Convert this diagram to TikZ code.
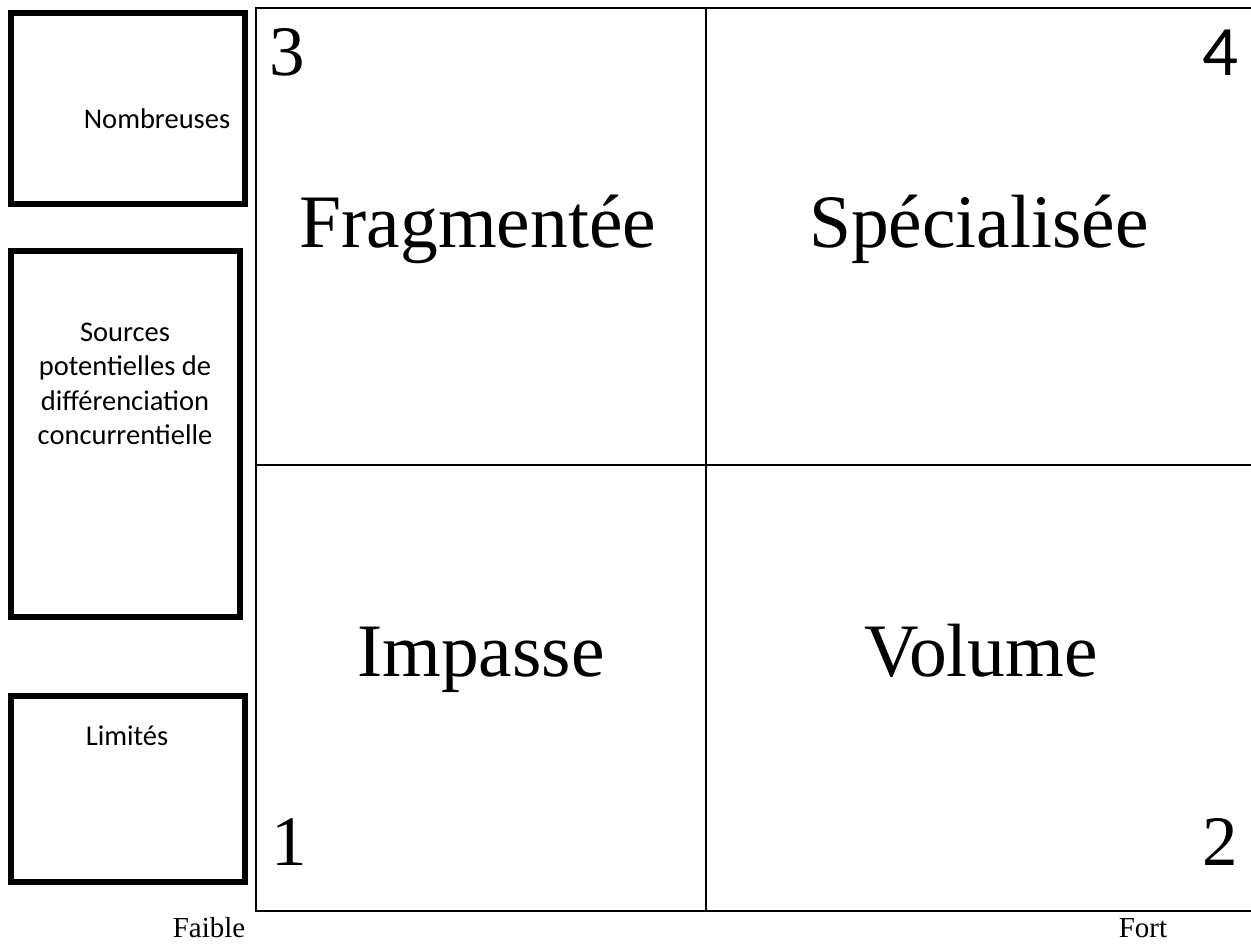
\documentclass[tikz,border=0pt]{standalone}
\usepackage{fontspec}
\setmainfont{Liberation Serif}
\newfontfamily\calibri{Carlito}
\begin{document}
\begin{tikzpicture}[x=1pt,y=-1pt,
  sidebox/.style={draw=black,line width=6pt,rectangle,inner sep=0pt},
  gridline/.style={draw=black,line width=2pt},
  small/.style={font=\calibri\fontsize{28.5}{34.5}\selectfont,align=center,anchor=base,inner sep=0pt},
  big/.style={font=\fontsize{75.5}{80}\selectfont,anchor=base,inner sep=0pt},
  num/.style={font=\fontsize{71}{80}\selectfont,anchor=base,inner sep=0pt},
  axis/.style={font=\fontsize{29}{32}\selectfont,anchor=base,inner sep=0pt}]
\useasboundingbox (0,0) rectangle (1251,943);
\clip (0,0) rectangle (1251,943);
\fill[white] (0,0) rectangle (1251,943);
% side boxes
\node[sidebox,minimum width=234pt,minimum height=191pt] (b1) at (128,108.5) {};
\node[sidebox,minimum width=229pt,minimum height=366pt] (b2) at (125.5,434) {};
\node[sidebox,minimum width=234pt,minimum height=186pt] (b3) at (128,789) {};
\node[small] (t1) at (157,128) {Nombreuses};
\node[small] (t2) at (125,444.5) {Sources\\potentielles de\\différenciation\\concurrentielle};
\node[small] (t3) at (127,745) {Limités};
% grid
\coordinate (g1) at (256,8);
\coordinate (g2) at (1260,911);
\draw[gridline] (g1) rectangle (g2);
\draw[gridline] (706,8) -- (706,911);
\draw[gridline] (256,465) -- (1260,465);
% quadrant labels
\node[big] (q3) at (478,247) {Fragmentée};
\node[big] (q4) at (979,247) {Spécialisée};
\node[big] (q1) at (481,676) {Impasse};
\node[big] (q2) at (981,676) {Volume};
\node[num] (n3) at (287,75) {3};
\node[num,font=\calibri\fontsize{71}{80}\selectfont] (n4) at (1220,75) {4};
\node[num] (n1) at (289,865) {1};
\node[num] (n2) at (1220,865) {2};
\node[axis] (fa) at (209,937) {Faible};
\node[axis] (fo) at (1143,937) {Fort};
\end{tikzpicture}
\end{document}
